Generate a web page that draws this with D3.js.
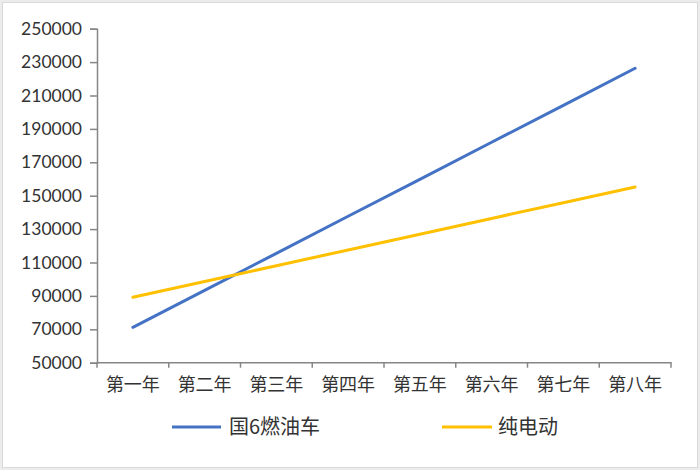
<!DOCTYPE html>
<html><head><meta charset="utf-8">
<script src="https://cdn.jsdelivr.net/npm/d3@7"></script>
<style>
html,body{margin:0;padding:0;background:#fff;}
svg{display:block;}
</style></head>
<body>
<svg id="c" width="700" height="470"></svg>
<script>
const categories = ["第一年","第二年","第三年","第四年","第五年","第六年","第七年","第八年"];
const seriesNames = ["国6燃油车","纯电动"];
const fuelValues = [71200, 93350, 115500, 137700, 159800, 182000, 204100, 226300];
const evValues = [89200, 98600, 108100, 117500, 126900, 136400, 145800, 155200];
const yTicks = [50000,70000,90000,110000,130000,150000,170000,190000,210000,230000,250000];
const colors = ["#4472C4","#FFC000"];

(function(){
const svg = d3.select("#c");
svg.append("rect").attr("x",0).attr("y",0).attr("width",700).attr("height",470).attr("fill","#ececec");
svg.append("rect").attr("x",2.5).attr("y",2.5).attr("width",695).attr("height",465).attr("fill","#fff")
  .attr("stroke","#d9d9d9").attr("stroke-width",1);

const mLeft=97, mRight=671, mTop=28.7, mBottom=362.7;
const x = d3.scaleBand().domain(categories).range([mLeft,mRight]);
const y = d3.scaleLinear().domain([50000,250000]).range([mBottom,mTop]);

const axisColor="#868686";
const textColor="#333333";
const gy = svg.append("g").attr("transform",`translate(${mLeft},0)`)
  .call(d3.axisLeft(y).tickValues(yTicks).tickSize(7).tickPadding(8).tickFormat(d3.format("d")));
gy.selectAll("path,line").attr("stroke",axisColor).attr("stroke-width",1.5);
gy.selectAll("text").attr("font-family","Lato, 'Noto Sans CJK SC', sans-serif").attr("font-size",17.5).attr("fill",textColor);

const gx = svg.append("g").attr("transform",`translate(0,${mBottom})`)
  .call(d3.axisBottom(x).tickSize(0).tickPadding(16));
gx.select("path").attr("stroke",axisColor).attr("stroke-width",1.5).attr("d",`M${mLeft},5V0H${mRight}V5`);
gx.selectAll("text").attr("font-family","'Noto Sans CJK SC', sans-serif").attr("font-size",18).attr("fill",textColor);
svg.append("g").selectAll("line").data(categories.slice(1)).join("line")
  .attr("x1",d=>x(d)).attr("x2",d=>x(d)).attr("y1",mBottom).attr("y2",mBottom+5)
  .attr("stroke",axisColor).attr("stroke-width",1.5);

const line = d3.line().x((d,i)=>x(categories[i])+x.bandwidth()/2).y(d=>y(d));
[fuelValues, evValues].forEach((vals,i)=>{
  svg.append("path").datum(vals).attr("d",line).attr("fill","none")
    .attr("stroke",colors[i]).attr("stroke-width",3).attr("stroke-linecap","round");
});

const legendPos = [{x1:172,x2:221,tx:229},{x1:442,x2:492,tx:498}];
seriesNames.forEach((n,i)=>{
  const p = legendPos[i];
  svg.append("line").attr("x1",p.x1).attr("x2",p.x2).attr("y1",427).attr("y2",427)
    .attr("stroke",colors[i]).attr("stroke-width",3);
  svg.append("text").attr("x",p.tx).attr("y",427).attr("dy","0.36em")
    .attr("font-family","'Noto Sans CJK SC', sans-serif").attr("font-size",20).attr("fill",textColor).text(n);
});
})();
</script>
</body></html>
